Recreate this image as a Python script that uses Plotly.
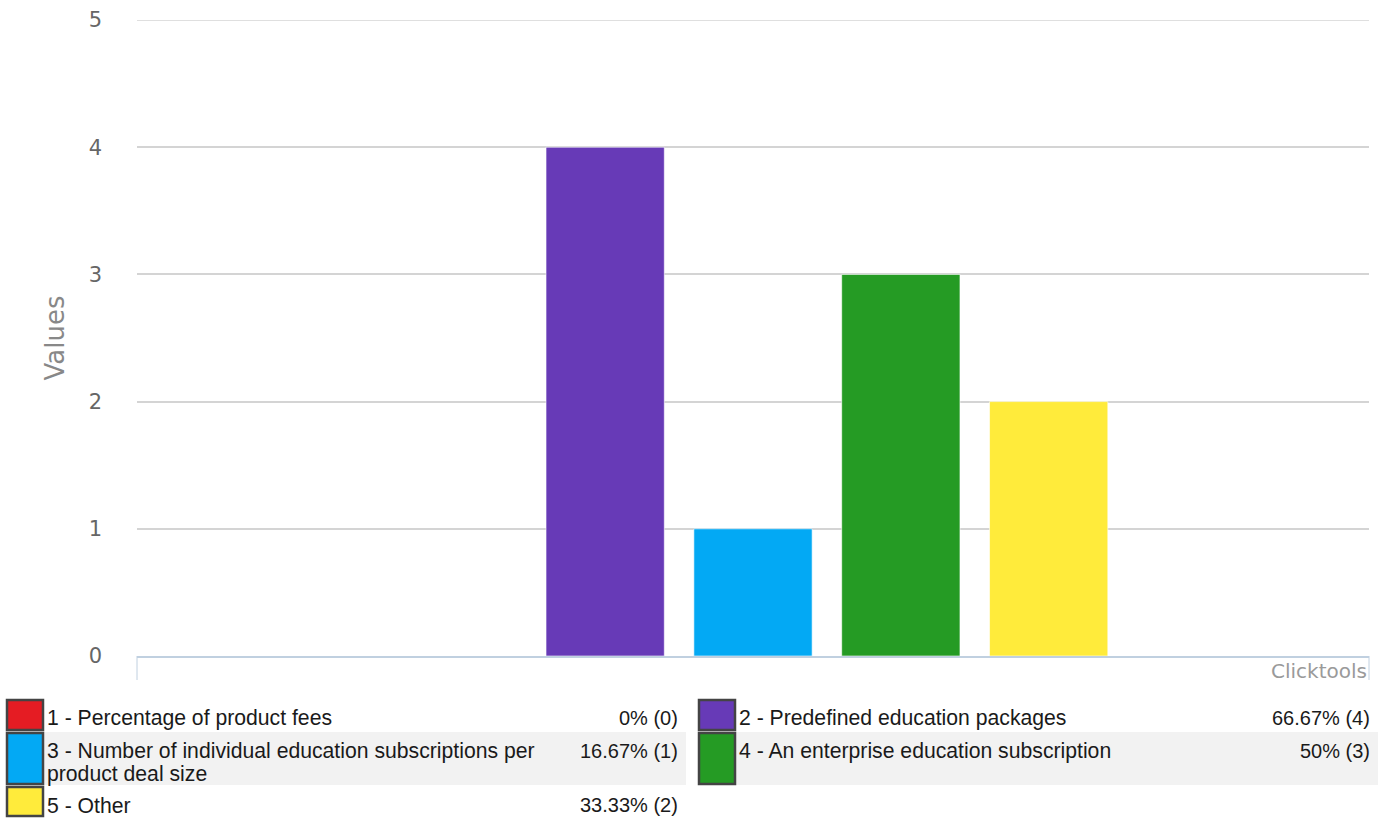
import plotly.graph_objects as go

# Survey answers and response counts
labels = [
    "1 - Percentage of product fees",
    "2 - Predefined education packages",
    "3 - Number of individual education subscriptions per<br>product deal size",
    "4 - An enterprise education subscription",
    "5 - Other",
]
counts = [0, 4, 1, 3, 2]
percents = ["0%", "66.67%", "16.67%", "50%", "33.33%"]
colors = ["#e51c23", "#673ab7", "#03a9f4", "#259b24", "#ffeb3b"]
y_ticks = [0, 1, 2, 3, 4, 5]

W, H = 1387, 818
L, R, T, B = 137, 18, 20, 162
PW, PH = W - L - R, H - T - B
GRID = "#d4d4d4"
LABEL_FONT = dict(family="Liberation Sans, Arial", size=21.2, color="#1a1a1a")
VALUE_FONT = dict(family="Liberation Sans, Arial", size=20, color="#1a1a1a")


def px(x):
    return (x - L) / PW


def py(y):
    return (H - B - y) / PH


fig = go.Figure()
for lab, c, col in zip(labels, counts, colors):
    fig.add_trace(go.Bar(
        x=[""], y=[c], name=lab, marker_color=col,
        marker_line=dict(color="rgba(255,255,255,0.6)", width=1),
        showlegend=False,
    ))

shapes = []
annots = []

# top gridline (sits on the plot edge)
shapes.append(dict(type="line", xref="paper", yref="y", x0=0, x1=1,
                   y0=y_ticks[-1], y1=y_ticks[-1],
                   line=dict(color=GRID, width=1.5), layer="below"))

# legend table: two columns, rows in reading order
cols_x = [(6, 44, 686), (698, 736, 1378)]
rows_y = [(699, 731), (732, 785), (786, 817)]
for i, (lab, c, pct, col) in enumerate(zip(labels, counts, percents, colors)):
    r, k = divmod(i, 2)
    x0, xt, xe = cols_x[k]
    y0, y1 = rows_y[r]
    if r % 2 == 1:
        shapes.append(dict(type="rect", xref="paper", yref="paper",
                           x0=px(xt), x1=px(xe), y0=py(y1), y1=py(y0),
                           fillcolor="#f2f2f2", line_width=0, layer="below"))
    shapes.append(dict(type="rect", xref="paper", yref="paper",
                       x0=px(x0 + 1), x1=px(xt - 1), y0=py(y1 - 1), y1=py(y0 + 1),
                       fillcolor=col, line=dict(color="#444444", width=2.5)))
    for j, line in enumerate(lab.split("<br>")):
        annots.append(dict(xref="paper", yref="paper", x=px(xt + 1),
                           y=py(y0 + 19 + 23 * j),
                           xanchor="left", yanchor="middle", text=line,
                           showarrow=False, font=LABEL_FONT))
    annots.append(dict(xref="paper", yref="paper", x=px(xe - 6), y=py(y0 + 19),
                       xanchor="right", yanchor="middle", text=f"{pct} ({c})",
                       showarrow=False, font=VALUE_FONT))

# axis baseline end ticks
for xe in (L, L + PW):
    shapes.append(dict(type="line", xref="paper", yref="paper",
                       x0=px(xe), x1=px(xe), y0=0, y1=py(680),
                       line=dict(color="#c0d0e0", width=1)))

annots.append(dict(xref="paper", yref="paper", x=px(1369), y=py(671),
                   xanchor="right", yanchor="middle", text="Clicktools", showarrow=False,
                   font=dict(family="DejaVu Sans", size=20, color="#9a9a9a")))

fig.update_layout(
    width=W, height=H,
    margin=dict(l=L, r=R, t=T, b=B),
    paper_bgcolor="white", plot_bgcolor="white",
    barmode="group", bargap=0.40, bargroupgap=0.2,
    shapes=shapes, annotations=annots,
    font=dict(family="DejaVu Sans"),
    xaxis=dict(showticklabels=False, showgrid=False, zeroline=False,
               showline=True, linecolor="#c0d0e0", linewidth=1.5, ticks="",
               automargin=False),
    yaxis=dict(range=[0, 5], tickvals=y_ticks, showgrid=True, gridcolor=GRID,
               gridwidth=1.5, zeroline=False, showline=False, ticks="",
               ticklabelstandoff=34, automargin=False,
               tickfont=dict(family="DejaVu Sans", size=21, color="#666"),
               title=dict(text="Values", standoff=16,
                          font=dict(family="DejaVu Sans", size=26, color="#888"))),
)

fig.write_html("out.html")
